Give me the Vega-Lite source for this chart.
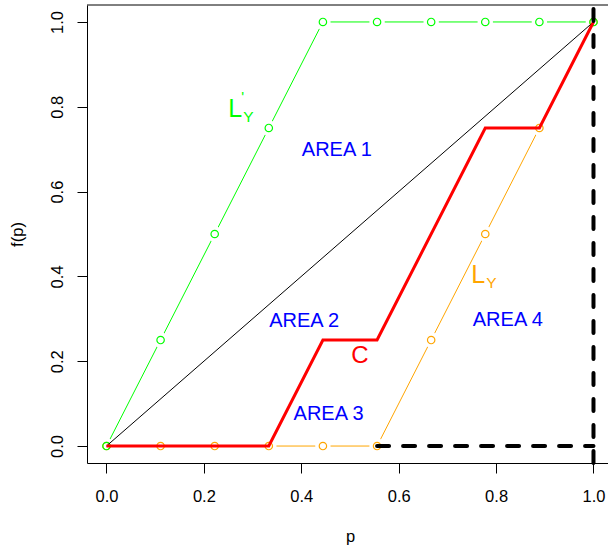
{
  "$schema": "https://vega.github.io/schema/vega-lite/v6.json",
  "width": 521,
  "height": 458,
  "autosize": "none",
  "padding": {"left": 87, "top": 5, "right": 0, "bottom": 89},
  "background": "white",
  "config": {
    "view": {"stroke": null},
    "font": "Liberation Sans",
    "axis": {
      "grid": false,
      "domain": true,
      "domainColor": "black",
      "domainWidth": 1,
      "tickColor": "black",
      "tickWidth": 1,
      "tickSize": 10,
      "labelColor": "black",
      "labelFontSize": 16.5,
      "labelFont": "Liberation Sans",
      "labelOverlap": false,
      "labelFlush": false,
      "titleColor": "black",
      "titleFont": "Liberation Sans",
      "titleFontSize": 16.5,
      "titleFontWeight": "normal"
    }
  },
  "datasets": {
    "curves": [
      {"p": 0.0, "v": 0.0, "s": "L"},
      {"p": 0.1111, "v": 0.0, "s": "L"},
      {"p": 0.2222, "v": 0.0, "s": "L"},
      {"p": 0.3333, "v": 0.0, "s": "L"},
      {"p": 0.4444, "v": 0.0, "s": "L"},
      {"p": 0.5556, "v": 0.0, "s": "L"},
      {"p": 0.6667, "v": 0.25, "s": "L"},
      {"p": 0.7778, "v": 0.5, "s": "L"},
      {"p": 0.8889, "v": 0.75, "s": "L"},
      {"p": 1.0, "v": 1.0, "s": "L"},
      {"p": 0.0, "v": 0.0, "s": "L'"},
      {"p": 0.1111, "v": 0.25, "s": "L'"},
      {"p": 0.2222, "v": 0.5, "s": "L'"},
      {"p": 0.3333, "v": 0.75, "s": "L'"},
      {"p": 0.4444, "v": 1.0, "s": "L'"},
      {"p": 0.5556, "v": 1.0, "s": "L'"},
      {"p": 0.6667, "v": 1.0, "s": "L'"},
      {"p": 0.7778, "v": 1.0, "s": "L'"},
      {"p": 0.8889, "v": 1.0, "s": "L'"},
      {"p": 1.0, "v": 1.0, "s": "L'"}
    ],
    "diag": [{"p": 0.0, "v": 0.0}, {"p": 1.0, "v": 1.0}],
    "cline": [
      {"p": 0.0, "v": 0.0},
      {"p": 0.3333, "v": 0.0},
      {"p": 0.4444, "v": 0.25},
      {"p": 0.5556, "v": 0.25},
      {"p": 0.7778, "v": 0.75},
      {"p": 0.8889, "v": 0.75},
      {"p": 1.0, "v": 1.0}
    ],
    "dash": [{"p": 0.5556, "v": 0.0}, {"p": 1.0, "v": 0.0}],
    "vline": [{"p": 1.0, "v": -0.04, "v2": 1.04}],
    "frame": [{"p": -0.04, "p2": 1.0298, "v": 1.04}],
    "areas": [
      {"p": 0.473, "v": 0.7, "t": "AREA 1"},
      {"p": 0.406, "v": 0.297, "t": "AREA 2"},
      {"p": 0.456, "v": 0.079, "t": "AREA 3"},
      {"p": 0.824, "v": 0.3, "t": "AREA 4"}
    ],
    "clabel": [{"p": 0.5205, "v": 0.2155, "t": "C"}],
    "llabels": [
      {"p": 0.2499, "v": 0.7767, "s": "L'", "main": "L", "sub": "Y", "sup": "'"},
      {"p": 0.7489, "v": 0.3848, "s": "L", "main": "L", "sub": "Y", "sup": ""}
    ]
  },
  "encoding": {
    "x": {
      "field": "p",
      "type": "quantitative",
      "scale": {"domain": [-0.04, 1.0298], "nice": false, "zero": false},
      "axis": {
        "values": [0, 0.2, 0.4, 0.6, 0.8, 1.0],
        "format": ".1f",
        "title": "p",
        "labelBaseline": "alphabetic",
        "labelPadding": 28,
        "titleX": 263,
        "titleY": 78.5,
        "titleAlign": "center",
        "titleBaseline": "alphabetic"
      }
    },
    "y": {
      "field": "v",
      "type": "quantitative",
      "scale": {"domain": [-0.04, 1.04], "nice": false, "zero": false},
      "axis": {
        "values": [0, 0.2, 0.4, 0.6, 0.8, 1.0],
        "format": ".1f",
        "title": "f(p)",
        "labelAngle": -90,
        "labelAlign": "center",
        "labelBaseline": "alphabetic",
        "labelPadding": 15,
        "titleAngle": -90,
        "titleX": -65,
        "titleY": 229,
        "titleAlign": "center",
        "titleBaseline": "alphabetic"
      }
    }
  },
  "layer": [
    {
      "data": {"name": "curves"},
      "mark": {"type": "line", "strokeWidth": 1},
      "encoding": {
        "color": {"field": "s", "type": "nominal", "scale": {"domain": ["L", "L'"], "range": ["#FFA500", "#00FF00"]}, "legend": null}
      }
    },
    {
      "data": {"name": "curves"},
      "mark": {"type": "point", "shape": "circle", "filled": true, "size": 240, "fill": "#ffffff", "fillOpacity": 1, "opacity": 1, "strokeWidth": 0}
    },
    {
      "data": {"name": "curves"},
      "mark": {"type": "point", "shape": "circle", "filled": false, "size": 55, "strokeWidth": 1.2, "opacity": 1},
      "encoding": {
        "color": {"field": "s", "type": "nominal", "scale": {"domain": ["L", "L'"], "range": ["#FFA500", "#00FF00"]}, "legend": null}
      }
    },
    {
      "data": {"name": "diag"},
      "mark": {"type": "line", "color": "black", "strokeWidth": 1}
    },
    {
      "data": {"name": "cline"},
      "mark": {"type": "line", "color": "#FF0000", "strokeWidth": 3}
    },
    {
      "data": {"name": "dash"},
      "mark": {"type": "line", "color": "black", "strokeWidth": 4, "strokeDash": [12, 14], "strokeCap": "round"}
    },
    {
      "data": {"name": "vline"},
      "mark": {"type": "rule", "color": "black", "strokeWidth": 4, "strokeDash": [12, 14], "strokeCap": "round"},
      "encoding": {
        "y2": {"field": "v2"}
      }
    },
    {
      "data": {"name": "frame"},
      "mark": {"type": "rule", "color": "black", "strokeWidth": 1},
      "encoding": {
        "x2": {"field": "p2"}
      }
    },
    {
      "data": {"name": "areas"},
      "mark": {"type": "text", "color": "#0000FF", "fontSize": 20, "align": "center", "baseline": "middle", "dy": 1, "font": "Liberation Sans"},
      "encoding": {"text": {"field": "t"}}
    },
    {
      "data": {"name": "clabel"},
      "mark": {"type": "text", "color": "#FF0000", "fontSize": 24, "align": "center", "baseline": "middle", "dy": 1, "font": "Liberation Sans"},
      "encoding": {"text": {"field": "t"}}
    },
    {
      "data": {"name": "llabels"},
      "mark": {"type": "text", "fontSize": 25, "align": "left", "baseline": "alphabetic", "font": "Liberation Sans"},
      "encoding": {
        "text": {"field": "main"},
        "color": {"field": "s", "type": "nominal", "scale": {"domain": ["L", "L'"], "range": ["#FFA500", "#00FF00"]}, "legend": null}
      }
    },
    {
      "data": {"name": "llabels"},
      "mark": {"type": "text", "fontSize": 15.5, "align": "left", "baseline": "alphabetic", "dx": 15, "dy": 5.5, "font": "Liberation Sans"},
      "encoding": {
        "text": {"field": "sub"},
        "color": {"field": "s", "type": "nominal", "scale": {"domain": ["L", "L'"], "range": ["#FFA500", "#00FF00"]}, "legend": null}
      }
    },
    {
      "data": {"name": "llabels"},
      "mark": {"type": "text", "fontSize": 15, "align": "center", "baseline": "alphabetic", "dx": 14.5, "dy": -14.6, "font": "Liberation Sans"},
      "encoding": {
        "text": {"field": "sup"},
        "color": {"field": "s", "type": "nominal", "scale": {"domain": ["L", "L'"], "range": ["#FFA500", "#00FF00"]}, "legend": null}
      }
    }
  ]
}
